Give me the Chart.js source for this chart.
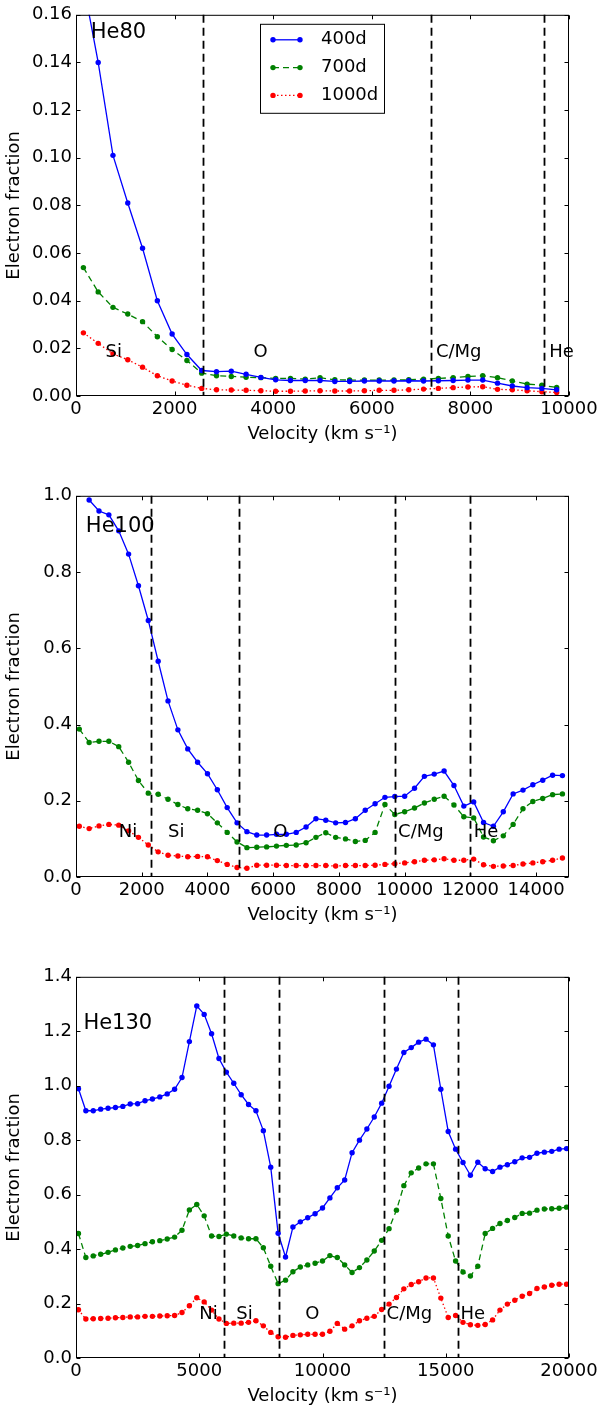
<!DOCTYPE html>
<html>
<head>
<meta charset="utf-8">
<script src="https://cdn.jsdelivr.net/npm/chart.js@4"></script>
<style>
  body { margin: 0; width: 601px; height: 1410px; background: #fff; overflow: hidden; position: relative; }
  .panel { position: absolute; left: 0; width: 601px; height: 449px; }
</style>
</head>
<body>
<div class="panel" style="top:0px"><canvas id="he80"></canvas></div>
<div class="panel" style="top:481px"><canvas id="he100"></canvas></div>
<div class="panel" style="top:962px"><canvas id="he130"></canvas></div>
<script>
// ---- data ----
const seriesNames = ['400d', '700d', '1000d'];

// He80
const vel80 = [150, 450, 750, 1050, 1350, 1650, 1950, 2250, 2550, 2850, 3150, 3450, 3750, 4050, 4350, 4650, 4950,
  5250, 5550, 5850, 6150, 6450, 6750, 7050, 7350, 7650, 7950, 8250, 8550, 8850, 9150, 9450, 9750];
const he80_400 = [0.173, 0.140, 0.101, 0.081, 0.062, 0.040, 0.026, 0.0174, 0.0107, 0.0102, 0.0104, 0.0091, 0.0078,
  0.0068, 0.0065, 0.0065, 0.0065, 0.0061, 0.0061, 0.0063, 0.0063, 0.0063, 0.0064, 0.0063, 0.0064, 0.0065, 0.0067,
  0.0067, 0.0054, 0.0042, 0.0035, 0.0032, 0.0026];
const he80_700 = [0.0539, 0.0437, 0.0372, 0.0344, 0.0312, 0.0249, 0.0195, 0.0149, 0.0096, 0.0085, 0.0082, 0.0079,
  0.0077, 0.0074, 0.0074, 0.0071, 0.0077, 0.0068, 0.0067, 0.0067, 0.0067, 0.0067, 0.0068, 0.0071, 0.0074, 0.0077,
  0.0082, 0.0085, 0.0077, 0.0063, 0.0050, 0.0045, 0.0036];
const he80_1000 = [0.0265, 0.0221, 0.0177, 0.0152, 0.0121, 0.0085, 0.0063, 0.0045, 0.0032, 0.0026, 0.0025, 0.0024,
  0.0022, 0.0020, 0.0020, 0.0021, 0.0022, 0.0021, 0.0021, 0.0022, 0.0024, 0.0024, 0.0026, 0.0029, 0.0032, 0.0035,
  0.0038, 0.0039, 0.0028, 0.0026, 0.0022, 0.0018, 0.0015];
const bounds80 = [2580, 7200, 9500];
const zones80 = ['Si', 'O', 'C/Mg', 'He'];
const zoneVel80 = [600, 3600, 7300, 9600];
const xTicks80 = [0, 2000, 4000, 6000, 8000, 10000];
const yTicks80 = [0, 0.02, 0.04, 0.06, 0.08, 0.10, 0.12, 0.14, 0.16];

// He100
const vel100 = [100, 400, 700, 1000, 1300, 1600, 1900, 2200, 2500, 2800, 3100, 3400, 3700, 4000, 4300, 4600, 4900,
  5200, 5500, 5800, 6100, 6400, 6700, 7000, 7300, 7600, 7900, 8200, 8500, 8800, 9100, 9400, 9700, 10000, 10300,
  10600, 10900, 11200, 11500, 11800, 12100, 12400, 12700, 13000, 13300, 13600, 13900, 14200, 14500, 14800];
const he100_400 = [null, 0.989, 0.960, 0.950, 0.908, 0.847, 0.764, 0.673, 0.566, 0.462, 0.386, 0.336, 0.301, 0.271,
  0.229, 0.182, 0.142, 0.119, 0.110, 0.110, 0.112, 0.112, 0.117, 0.131, 0.153, 0.149, 0.142, 0.143, 0.153, 0.175,
  0.192, 0.209, 0.211, 0.212, 0.233, 0.264, 0.270, 0.278, 0.240, 0.186, 0.197, 0.143, 0.133, 0.171, 0.218, 0.228,
  0.242, 0.254, 0.267, 0.266];
const he100_700 = [0.388, 0.353, 0.356, 0.356, 0.342, 0.301, 0.253, 0.220, 0.217, 0.204, 0.190, 0.179, 0.175, 0.166,
  0.142, 0.117, 0.092, 0.077, 0.078, 0.079, 0.081, 0.083, 0.084, 0.090, 0.104, 0.116, 0.104, 0.100, 0.093, 0.096,
  0.117, 0.190, 0.164, 0.171, 0.181, 0.194, 0.204, 0.212, 0.189, 0.158, 0.155, 0.105, 0.095, 0.108, 0.138, 0.179,
  0.198, 0.206, 0.216, 0.218];
const he100_1000 = [0.133, 0.127, 0.134, 0.138, 0.136, 0.121, 0.104, 0.084, 0.066, 0.057, 0.055, 0.053, 0.054, 0.053,
  0.043, 0.033, 0.025, 0.023, 0.031, 0.031, 0.031, 0.030, 0.030, 0.030, 0.030, 0.030, 0.029, 0.030, 0.030, 0.030,
  0.031, 0.033, 0.035, 0.037, 0.040, 0.044, 0.045, 0.048, 0.044, 0.044, 0.047, 0.032, 0.028, 0.029, 0.030, 0.034,
  0.037, 0.040, 0.044, 0.050];
const bounds100 = [2280, 4970, 9700, 12000];
const zones100 = ['Ni', 'Si', 'O', 'C/Mg', 'He'];
const zoneVel100 = [1300, 2800, 6000, 9800, 12100];
const xTicks100 = [0, 2000, 4000, 6000, 8000, 10000, 12000, 14000];
const yTicks100 = [0, 0.2, 0.4, 0.6, 0.8, 1.0];

// He130
const vel130 = [100, 400, 700, 1000, 1300, 1600, 1900, 2200, 2500, 2800, 3100, 3400, 3700, 4000, 4300, 4600, 4900,
  5200, 5500, 5800, 6100, 6400, 6700, 7000, 7300, 7600, 7900, 8200, 8500, 8800, 9100, 9400, 9700, 10000, 10300,
  10600, 10900, 11200, 11500, 11800, 12100, 12400, 12700, 13000, 13300, 13600, 13900, 14200, 14500, 14800, 15100,
  15400, 15700, 16000, 16300, 16600, 16900, 17200, 17500, 17800, 18100, 18400, 18700, 19000, 19300, 19600, 19900];
const he130_400 = [0.989, 0.908, 0.908, 0.914, 0.917, 0.920, 0.924, 0.933, 0.934, 0.945, 0.951, 0.959, 0.970, 0.987,
  1.030, 1.162, 1.293, 1.262, 1.191, 1.100, 1.050, 1.009, 0.967, 0.931, 0.908, 0.835, 0.701, 0.458, 0.371, 0.481,
  0.500, 0.515, 0.530, 0.551, 0.588, 0.625, 0.654, 0.754, 0.800, 0.841, 0.885, 0.936, 0.998, 1.061, 1.122, 1.140,
  1.160, 1.171, 1.150, 0.987, 0.832, 0.767, 0.718, 0.671, 0.719, 0.695, 0.685, 0.701, 0.710, 0.721, 0.735, 0.737,
  0.752, 0.756, 0.759, 0.767, 0.769];
const he130_700 = [0.457, 0.369, 0.375, 0.381, 0.388, 0.397, 0.404, 0.410, 0.413, 0.420, 0.427, 0.431, 0.437, 0.444,
  0.469, 0.544, 0.564, 0.522, 0.448, 0.446, 0.455, 0.448, 0.441, 0.438, 0.438, 0.405, 0.337, 0.273, 0.286, 0.317,
  0.334, 0.342, 0.348, 0.356, 0.376, 0.369, 0.342, 0.314, 0.332, 0.360, 0.393, 0.432, 0.475, 0.543, 0.633, 0.680,
  0.698, 0.713, 0.713, 0.586, 0.448, 0.356, 0.316, 0.301, 0.337, 0.457, 0.476, 0.494, 0.505, 0.516, 0.531, 0.532,
  0.543, 0.547, 0.548, 0.550, 0.554];
const he130_1000 = [0.177, 0.143, 0.144, 0.145, 0.146, 0.148, 0.149, 0.151, 0.151, 0.153, 0.153, 0.154, 0.155, 0.156,
  0.167, 0.192, 0.221, 0.206, 0.176, 0.143, 0.127, 0.128, 0.128, 0.131, 0.137, 0.118, 0.094, 0.078, 0.076, 0.083,
  0.085, 0.087, 0.087, 0.087, 0.098, 0.127, 0.106, 0.118, 0.137, 0.146, 0.153, 0.178, 0.198, 0.222, 0.254, 0.270,
  0.280, 0.294, 0.294, 0.220, 0.149, 0.156, 0.131, 0.122, 0.120, 0.123, 0.140, 0.176, 0.198, 0.212, 0.227, 0.237,
  0.255, 0.261, 0.267, 0.271, 0.271];
const bounds130 = [6000, 8250, 12500, 15500];
const zones130 = ['Ni', 'Si', 'O', 'C/Mg', 'He'];
const zoneVel130 = [5000, 6500, 9300, 12600, 15600];
const xTicks130 = [0, 5000, 10000, 15000, 20000];
const yTicks130 = [0, 0.2, 0.4, 0.6, 0.8, 1.0, 1.2, 1.4];

// ---- styling ----
const FONT = 'DejaVu Sans';
const lineStyles = [
  { color: '#0000ff', dash: [] },
  { color: '#008000', dash: [6, 4] },
  { color: '#ff0000', dash: [1.5, 2.5] }
];

// frame with inward ticks, layer boundaries, zone labels and legend (matplotlib look)
const decor = {
  id: 'decor',
  afterDatasetsDraw(chart, args, o) {
    const { ctx, chartArea: ca, scales: { x } } = chart;
    ctx.save();
    ctx.strokeStyle = '#000';
    ctx.lineWidth = 1.8;
    ctx.setLineDash([8, 5]);
    o.bounds.forEach(b => {
      const px = Math.round(x.getPixelForValue(b)) + 0.5;
      ctx.beginPath();
      ctx.moveTo(px, ca.top);
      ctx.lineTo(px, ca.bottom);
      ctx.stroke();
    });
    ctx.restore();
  },
  afterDraw(chart, args, o) {
    const { ctx, chartArea: ca, scales: { x, y } } = chart;
    ctx.save();
    ctx.strokeStyle = '#000';
    ctx.lineWidth = 1;
    const L = ca.left + 0.5, R = ca.right - 0.5, T = ca.top + 0.5, B = ca.bottom - 0.5;
    ctx.strokeRect(L, T, R - L, B - T);
    ctx.beginPath();
    x.ticks.forEach(t => {
      const px = Math.round(x.getPixelForValue(t.value)) + 0.5;
      ctx.moveTo(px, B); ctx.lineTo(px, B - 4);
      ctx.moveTo(px, T); ctx.lineTo(px, T + 4);
    });
    y.ticks.forEach(t => {
      const py = Math.round(y.getPixelForValue(t.value)) + 0.5;
      ctx.moveTo(L, py); ctx.lineTo(L + 4, py);
      ctx.moveTo(R, py); ctx.lineTo(R - 4, py);
    });
    ctx.stroke();

    ctx.fillStyle = '#000';
    ctx.textBaseline = 'middle';
    ctx.textAlign = 'left';
    ctx.font = '18px "' + FONT + '"';
    o.zones.forEach((z, i) => {
      ctx.fillText(z, x.getPixelForValue(o.zoneVel[i]), y.getPixelForValue(o.zoneY));
    });
    ctx.font = '21px "' + FONT + '"';
    ctx.fillText(o.title, x.getPixelForValue(300), y.getPixelForValue(o.titleY));

    if (o.legend) {
      const lx = ca.left + 184, ly = ca.top + 9, w = 124, h = 89;
      ctx.fillStyle = '#fff';
      ctx.fillRect(lx, ly, w, h);
      ctx.strokeStyle = '#000';
      ctx.strokeRect(lx + 0.5, ly + 0.5, w, h);
      chart.data.datasets.forEach((ds, i) => {
        const ry = ly + 16 + i * 27.8;
        ctx.strokeStyle = ds.borderColor;
        ctx.lineWidth = ds.borderWidth;
        ctx.setLineDash(ds.borderDash);
        ctx.beginPath();
        ctx.moveTo(lx + 13, ry); ctx.lineTo(lx + 40, ry);
        ctx.stroke();
        ctx.setLineDash([]);
        ctx.fillStyle = ds.borderColor;
        [lx + 13, lx + 40].forEach(cx => {
          ctx.beginPath(); ctx.arc(cx, ry, 2.7, 0, Math.PI * 2); ctx.fill();
        });
        ctx.fillStyle = '#000';
        ctx.font = '18px "' + FONT + '"';
        ctx.fillText(ds.label, lx + 61, ry);
      });
    }
    ctx.restore();
  }
};

function makeChart(id, vel, series, cfg) {
  const tickFont = { family: FONT, size: 18 };
  new Chart(id, {
    type: 'line',
    data: {
      datasets: series.map((ys, i) => ({
        label: seriesNames[i],
        data: vel.map((v, j) => ({ x: v, y: ys[j] })),
        borderColor: lineStyles[i].color,
        backgroundColor: lineStyles[i].color,
        pointBackgroundColor: lineStyles[i].color,
        borderDash: lineStyles[i].dash,
        borderWidth: 1.3,
        pointRadius: 2.7,
        pointBorderWidth: 0,
        tension: 0
      }))
    },
    options: {
      responsive: true,
      maintainAspectRatio: false,
      animation: false,
      layout: { padding: { top: 13, right: 32, left: 0, bottom: 0 } },
      plugins: {
        legend: { display: false },
        tooltip: { enabled: false },
        decor: cfg.decor
      },
      scales: {
        x: {
          type: 'linear',
          min: 0, max: cfg.xMax,
          afterBuildTicks: s => { s.ticks = cfg.xTicks.map(v => ({ value: v })); },
          afterFit: s => { s.height = 53; },
          grid: { display: false, drawTicks: false },
          border: { display: false },
          ticks: { font: tickFont, color: '#000', padding: 3, maxRotation: 0, autoSkip: false,
            callback: v => String(v) },
          title: { display: true, text: 'Velocity (km s\u207B\u00B9)', font: tickFont, color: '#000',
            padding: { top: 0, bottom: 4 } }
        },
        y: {
          min: 0, max: cfg.yMax,
          afterBuildTicks: s => { s.ticks = cfg.yTicks.map(v => ({ value: v })); },
          afterFit: s => { s.width = 76; },
          grid: { display: false, drawTicks: false },
          border: { display: false },
          ticks: { font: tickFont, color: '#000', padding: 4, autoSkip: false,
            callback: v => v.toFixed(cfg.yDec) },
          title: { display: true, text: 'Electron fraction', font: tickFont, color: '#000',
            padding: { top: 4, bottom: 0 } }
        }
      }
    },
    plugins: [decor]
  });
}

makeChart('he80', vel80, [he80_400, he80_700, he80_1000], {
  xMax: 10000, yMax: 0.16, xTicks: xTicks80, yTicks: yTicks80, yDec: 2,
  decor: { bounds: bounds80, zones: zones80, zoneVel: zoneVel80, zoneY: 0.0185,
    title: 'He80', titleY: 0.1526, legend: true }
});
makeChart('he100', vel100, [he100_400, he100_700, he100_1000], {
  xMax: 15000, yMax: 1.0, xTicks: xTicks100, yTicks: yTicks100, yDec: 1,
  decor: { bounds: bounds100, zones: zones100, zoneVel: zoneVel100, zoneY: 0.118,
    title: 'He100', titleY: 0.919, legend: false }
});
makeChart('he130', vel130, [he130_400, he130_700, he130_1000], {
  xMax: 20000, yMax: 1.4, xTicks: xTicks130, yTicks: yTicks130, yDec: 1,
  decor: { bounds: bounds130, zones: zones130, zoneVel: zoneVel130, zoneY: 0.162,
    title: 'He130', titleY: 1.229, legend: false }
});
</script>
</body>
</html>
